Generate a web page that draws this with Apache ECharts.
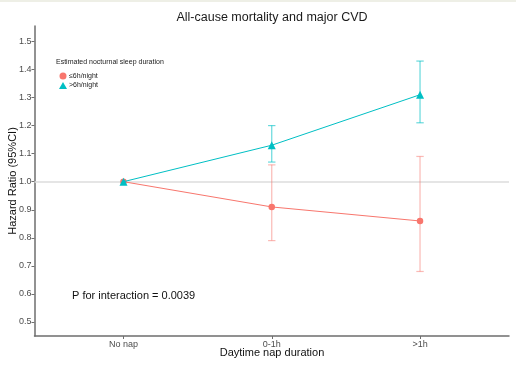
<!DOCTYPE html>
<html>
<head>
<meta charset="utf-8">
<script src="https://cdn.jsdelivr.net/npm/echarts@6/dist/echarts.min.js"></script>
<style>
html,body{margin:0;padding:0;background:#fff;}
#chart{width:516px;height:365px;}
</style>
</head>
<body>
<div id="chart"></div>
<script>
var categories = ['No nap', '0-1h', '>1h'];
var seriesNames = ['\u22646h/night', '>6h/night'];
var shortHR = [1.00, 0.91, 0.86];
var shortLow = [null, 0.79, 0.68];
var shortHigh = [null, 1.06, 1.09];
var longHR = [1.00, 1.13, 1.31];
var longLow = [null, 1.07, 1.21];
var longHigh = [null, 1.20, 1.43];
var yTicks = [0.5, 0.6, 0.7, 0.8, 0.9, 1.0, 1.1, 1.2, 1.3, 1.4, 1.5];
var xTicks = [0, 1, 2];
var refValue = 1.0;

var FONT = 'Liberation Sans, Arial, sans-serif';
var RED = '#F8766D', TEAL = '#00BFC4';

function pts(vals) { return vals.map(function (v, i) { return [i, v]; }); }
function bars(lo, hi) {
  var out = [];
  for (var i = 0; i < lo.length; i++) if (lo[i] != null) out.push([i, lo[i], hi[i]]);
  return out;
}
function errRender(color) {
  return function (params, api) {
    var x = api.value(0);
    var p1 = api.coord([x, api.value(1)]);
    var p2 = api.coord([x, api.value(2)]);
    var hw = 3.7;
    var st = { stroke: color, lineWidth: 1.2 };
    return { type: 'group', children: [
      { type: 'line', shape: { x1: p1[0], y1: p1[1], x2: p2[0], y2: p2[1] }, style: st },
      { type: 'line', shape: { x1: p1[0] - hw, y1: p1[1], x2: p1[0] + hw, y2: p1[1] }, style: st },
      { type: 'line', shape: { x1: p2[0] - hw, y1: p2[1], x2: p2[0] + hw, y2: p2[1] }, style: st }
    ]};
  };
}

var chart = echarts.init(document.getElementById('chart'), null, { renderer: 'canvas' });
chart.setOption({
  animation: false,
  backgroundColor: '#ffffff',
  textStyle: { fontFamily: FONT },
  grid: { left: 34.5, right: 7, top: 26, bottom: 29, containLabel: false, outerBoundsMode: 'none' },
  graphic: [
    { type: 'rect', shape: { x: 0, y: 0, width: 516, height: 2 }, style: { fill: '#eeefe6' }, silent: true },
    { type: 'text', x: 272, y: 18, style: { text: 'All-cause mortality and major CVD', fontFamily: FONT, fontSize: 12.5, fill: '#1a1a1a', textAlign: 'center', textVerticalAlign: 'middle' } },
    { type: 'text', x: 272, y: 352.5, style: { text: 'Daytime nap duration', fontFamily: FONT, fontSize: 11, fill: '#111', textAlign: 'center', textVerticalAlign: 'middle' } },
    { type: 'text', x: 13, y: 181, rotation: Math.PI / 2, style: { text: 'Hazard Ratio (95%CI)', fontFamily: FONT, fontSize: 11, fill: '#111', textAlign: 'center', textVerticalAlign: 'middle' } },
    { type: 'text', x: 56, y: 62, style: { text: 'Estimated nocturnal sleep duration', fontFamily: FONT, fontSize: 7, fill: '#222', textAlign: 'left', textVerticalAlign: 'middle' } },
    { type: 'text', x: 72, y: 295.5, style: { text: 'P for interaction = 0.0039', fontFamily: FONT, fontSize: 11, fill: '#111', textAlign: 'left', textVerticalAlign: 'middle' } }
  ],
  legend: {
    left: 54, top: 67.5, orient: 'vertical', itemWidth: 8, itemHeight: 7, itemGap: 2.5,
    textStyle: { fontFamily: FONT, fontSize: 7, color: '#222', padding: [0, 0, 0, -3] },
    data: [{ name: seriesNames[0], icon: 'circle' }, { name: seriesNames[1], icon: 'triangle' }]
  },
  xAxis: {
    type: 'value', min: -0.6, max: 2.6,
    axisLine: { show: true, onZero: false, lineStyle: { color: '#6e6e6e', width: 1.5 } },
    axisTick: { show: true, customValues: xTicks, length: 3, lineStyle: { color: '#6e6e6e' } },
    axisLabel: { customValues: xTicks, margin: 4, fontFamily: FONT, fontSize: 9, color: '#4d4d4d',
      formatter: function (v) { return categories[Math.round(v)] || ''; } },
    splitLine: { show: false }
  },
  yAxis: {
    type: 'value', min: 0.45, max: 1.555,
    axisLine: { show: true, onZero: false, lineStyle: { color: '#6e6e6e', width: 1.5 } },
    axisTick: { show: true, customValues: yTicks, length: 3, lineStyle: { color: '#6e6e6e' } },
    axisLabel: { customValues: yTicks, margin: 3, fontFamily: FONT, fontSize: 9, color: '#4d4d4d',
      formatter: function (v) { return v.toFixed(1); } },
    splitLine: { show: false }
  },
  series: [
    { type: 'custom', name: 'errShort', renderItem: errRender('rgba(248,118,109,0.5)'), data: bars(shortLow, shortHigh), encode: { x: 0, y: [1, 2] }, z: 2, silent: true },
    { type: 'custom', name: 'errLong', renderItem: errRender('rgba(0,191,196,0.6)'), data: bars(longLow, longHigh), encode: { x: 0, y: [1, 2] }, z: 2, silent: true },
    { type: 'line', name: seriesNames[0], data: pts(shortHR), color: RED, symbol: 'circle', symbolSize: 6.5,
      lineStyle: { width: 1, color: RED }, itemStyle: { color: RED }, z: 3,
      markLine: { silent: true, symbol: 'none', label: { show: false }, lineStyle: { color: '#dcdcdc', width: 1.5, type: 'solid' },
        data: [{ yAxis: refValue }], z: 1 } },
    { type: 'line', name: seriesNames[1], data: pts(longHR), color: TEAL, symbol: 'triangle', symbolSize: 8,
      lineStyle: { width: 1, color: TEAL }, itemStyle: { color: TEAL }, z: 4 }
  ]
});
</script>
</body>
</html>
